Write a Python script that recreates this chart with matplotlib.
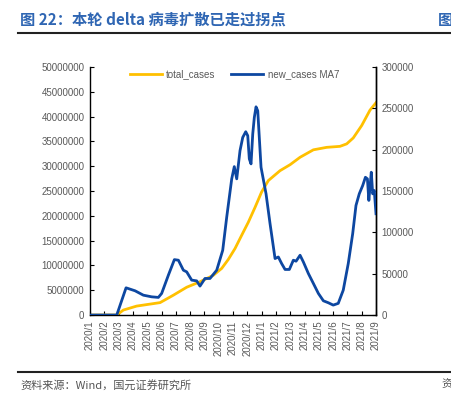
import matplotlib

matplotlib.use("Agg")

import matplotlib.pyplot as plt
from matplotlib.lines import Line2D

plt.rcParams["font.family"] = ["Liberation Sans", "Noto Sans CJK SC", "DejaVu Sans"]

TITLE = "图 22：本轮 delta 病毒扩散已走过拐点"
SOURCE = "资料来源：Wind，国元证券研究所"

MONTH_LABELS = [
    "2020/1", "2020/2", "2020/3", "2020/4", "2020/5", "2020/6", "2020/7",
    "2020/8", "2020/9", "2020/10", "2020/11", "2020/12", "2021/1", "2021/2",
    "2021/3", "2021/4", "2021/5", "2021/6", "2021/7", "2021/8", "2021/9",
]

# total_cases, left axis (position in months since 2020/1)
total_x = [0.0, 1.87, 2.33, 3.26, 4.9, 5.83, 6.76, 7.69, 8.62, 9.21, 9.67,
           10.14, 10.61, 11.07, 11.54, 12.0, 12.47, 13.29, 13.99, 14.69,
           15.62, 16.55, 17.48, 17.95, 18.41, 19.0, 19.58, 20.0]
total_cases = [0, 0, 1.0e6, 1.8e6, 2.5e6, 4.0e6, 5.6e6, 6.7e6, 8.0e6, 9.4e6,
               11.2e6, 13.4e6, 16.1e6, 18.7e6, 21.7e6, 24.8e6, 27.1e6, 29.1e6,
               30.3e6, 31.8e6, 33.3e6, 33.8e6, 34.0e6, 34.5e6, 35.7e6, 38.2e6,
               41.3e6, 42.8e6]

# new_cases MA7, right axis
new_x = [0.0, 1.87, 2.52, 3.15, 3.73, 4.31, 4.78, 5.01, 5.48, 5.90, 6.18,
         6.53, 6.76, 7.11, 7.46, 7.69, 8.04, 8.39, 8.86, 9.28, 9.56, 9.91,
         10.09, 10.26, 10.49, 10.68, 10.89, 11.03, 11.14, 11.26, 11.38,
         11.49, 11.61, 11.73, 11.96, 12.31, 12.59, 12.94, 13.17, 13.40,
         13.64, 13.94, 14.22, 14.41, 14.69, 14.92, 15.27, 15.62, 15.97,
         16.32, 16.67, 17.01, 17.36, 17.71, 18.06, 18.37, 18.60, 18.83,
         19.07, 19.26, 19.40, 19.50, 19.58, 19.67, 19.77, 19.88, 20.0]
new_cases_ma7 = [0, 0, 32900, 29300, 24000, 22000, 21300, 26100, 48200, 67000,
                 66300, 54200, 52200, 42200, 41300, 35000, 44200, 44200, 54200,
                 78300, 118400, 164700, 179500, 164700, 198800, 214800, 221700,
                 216900, 188800, 182800, 218900, 238900, 251800, 247000, 178700,
                 146600, 110500, 68300, 70200, 62300, 55100, 55100, 66300, 65100,
                 72300, 64200, 50200, 38200, 26100, 17200, 14800, 12000, 14100,
                 30100, 62300, 98400, 132500, 146600, 156600, 166600, 164700,
                 138600, 154600, 172700, 146600, 150600, 122500]

YELLOW = "#FFC000"
BLUE = "#0D47A1"
TICK_GRAY = "#595959"
TITLE_BLUE = "#2F66B3"
CJK = ["Noto Sans CJK SC", "DejaVu Sans"]

fig = plt.figure(figsize=(4.51, 3.98), dpi=100, facecolor="white")
ax = fig.add_axes([0.1996, 0.2085, 0.6341, 0.6232])
ax2 = ax.twinx()

ax.plot(total_x, total_cases, color=YELLOW, lw=2.0, zorder=2)
ax2.plot(new_x, new_cases_ma7, color=BLUE, lw=2.0, zorder=3)

ax.set_xlim(0, 20)
ax.set_ylim(0, 50000000)
ax2.set_ylim(0, 300000)
ax.set_yticks(range(0, 50000001, 5000000))
ax2.set_yticks(range(0, 300001, 50000))
ax.set_yticklabels([str(v) for v in range(0, 50000001, 5000000)])
ax2.set_yticklabels([str(v) for v in range(0, 300001, 50000)])
ax.set_xticks(range(len(MONTH_LABELS)))
ax.set_xticklabels(MONTH_LABELS, rotation=90)

for a in (ax, ax2):
    a.spines["top"].set_visible(False)
    for s in ("left", "right", "bottom"):
        a.spines[s].set_color("black")
        a.spines[s].set_linewidth(1.0)
    a.tick_params(direction="in", length=3, width=0.8, labelsize=7,
                  labelcolor=TICK_GRAY, color="black", pad=4)
ax2.spines["left"].set_visible(False)
ax2.spines["bottom"].set_visible(False)

handles = [Line2D([], [], color=YELLOW, lw=2.0), Line2D([], [], color=BLUE, lw=2.0)]
ax2.legend(handles, ["total_cases", "new_cases MA7"], loc="upper center",
           bbox_to_anchor=(0.505, 1.025), ncol=2, frameon=False, fontsize=7,
           labelcolor=TICK_GRAY, handlelength=3.3, handletextpad=0.45,
           columnspacing=1.6)

# title and source block
fig.text(20 / 451, 1 - 20 / 398, TITLE, fontsize=11, fontweight="bold",
         color=TITLE_BLUE, va="center", ha="left", family=CJK)
fig.text(438 / 451, 1 - 20 / 398, "图", fontsize=11, fontweight="bold",
         color=TITLE_BLUE, va="center", ha="left", family=CJK)
fig.add_artist(Line2D([18 / 451, 421 / 451], [1 - 33 / 398] * 2, color="#222222", lw=1.5))
fig.add_artist(Line2D([423 / 451, 1.0], [1 - 33 / 398] * 2, color="#222222", lw=1.5))
fig.add_artist(Line2D([18 / 451, 421 / 451], [1 - 372 / 398] * 2, color="#222222", lw=1.5))
fig.add_artist(Line2D([423 / 451, 1.0], [1 - 372 / 398] * 2, color="#222222", lw=1.5))
fig.text(20 / 451, 1 - 385 / 398, SOURCE, fontsize=8, color="#555555",
         va="center", ha="left", family=CJK)
fig.text(441 / 451, 1 - 385 / 398, "资", fontsize=8, color="#555555",
         va="center", ha="left", family=CJK)

fig.savefig("out.png", dpi=100, facecolor="white")
